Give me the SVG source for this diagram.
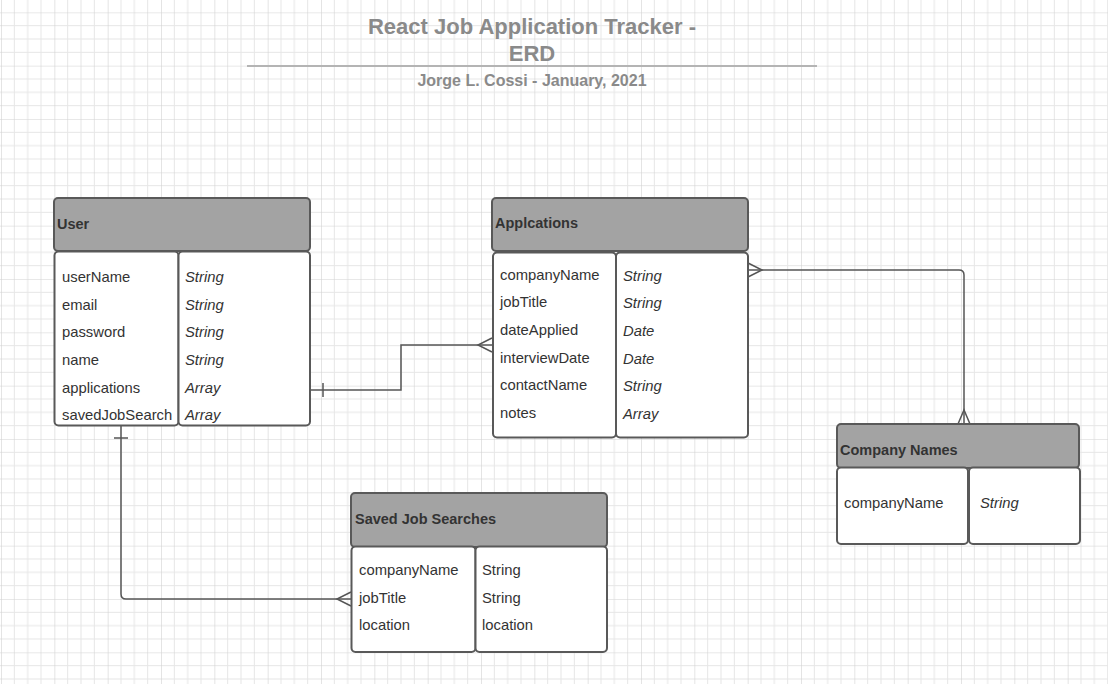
<svg xmlns="http://www.w3.org/2000/svg" width="1108" height="684" viewBox="0 0 1108 684">
<style>
.hdr{fill:#a3a3a3;stroke:#595959;stroke-width:2}
.body{fill:#ffffff;stroke:#595959;stroke-width:2}
.ht{font-family:"Liberation Sans",Arial,sans-serif;font-size:14.5px;font-weight:bold;fill:#333}
.rt{font-family:"Liberation Sans",Arial,sans-serif;font-size:14.8px;fill:#333}
.it{font-style:italic}
.title{font-family:"Liberation Sans",Arial,sans-serif;font-weight:bold;fill:#8a8a8a;text-anchor:middle}
.conn{fill:none;stroke:#555;stroke-width:1.5}
</style>
<defs>
<pattern id="grid" x="1" y="12.33" width="53.333" height="53.333" patternUnits="userSpaceOnUse">
<path d="M13.333 0V53.333M26.667 0V53.333M40 0V53.333M0 13.333H53.333M0 26.667H53.333M0 40H53.333" stroke="#e6e6e6" stroke-width="1" fill="none"/>
<path d="M0 0V53.333M0 0H53.333" stroke="#d2d2d2" stroke-width="1.2" fill="none"/>
</pattern>
</defs>
<rect width="1108" height="684" fill="#ffffff"/>
<rect width="1108" height="684" fill="url(#grid)"/>

<g id="title">
<text class="title" x="532" y="34" font-size="22">React Job Application Tracker -</text>
<text class="title" x="532" y="61" font-size="22">ERD</text>
<line x1="247" y1="66" x2="817" y2="66" stroke="#b4b4b4" stroke-width="2"/>
<text class="title" x="532" y="86" font-size="16">Jorge L. Cossi - January, 2021</text>
</g>

<g id="connectors">
<path class="conn" d="M310 390H401V345H492"/>
<path class="conn" d="M323 383V397"/>
<path class="conn" d="M492 338L478 345L492 352"/>
<path class="conn" d="M748 270H959Q964 270 964 275V424"/>
<path class="conn" d="M748 263L762 270L748 277"/>
<path class="conn" d="M958 424L964 410L970 424"/>
<path class="conn" d="M121 425V594Q121 599 126 599H351"/>
<path class="conn" d="M114 438H128"/>
<path class="conn" d="M351 592L337 599L351 606"/>
</g>

<g id="user">
<rect class="hdr" x="54" y="198" width="256" height="53" rx="4"/>
<rect class="body" x="54.5" y="251.5" width="124" height="174" rx="4"/>
<rect class="body" x="178.5" y="251.5" width="131.5" height="174" rx="4"/>
<text class="ht" x="57" y="229">User</text>
<text class="rt" x="62" y="282">userName</text>
<text class="rt" x="62" y="310">email</text>
<text class="rt" x="62" y="337">password</text>
<text class="rt" x="62" y="365">name</text>
<text class="rt" x="62" y="393">applications</text>
<text class="rt" x="62" y="420">savedJobSearch</text>
<text class="rt it" x="185" y="282">String</text>
<text class="rt it" x="185" y="310">String</text>
<text class="rt it" x="185" y="337">String</text>
<text class="rt it" x="185" y="365">String</text>
<text class="rt it" x="185" y="393">Array</text>
<text class="rt it" x="185" y="420">Array</text>
</g>

<g id="applications">
<rect class="hdr" x="492" y="198" width="256" height="53" rx="4"/>
<rect class="body" x="493" y="252.5" width="123" height="185" rx="4"/>
<rect class="body" x="616" y="252.5" width="132" height="185" rx="4"/>
<text class="ht" x="495" y="228">Applcations</text>
<text class="rt" x="500" y="280">companyName</text>
<text class="rt" x="500" y="307">jobTitle</text>
<text class="rt" x="500" y="335">dateApplied</text>
<text class="rt" x="500" y="363">interviewDate</text>
<text class="rt" x="500" y="390">contactName</text>
<text class="rt" x="500" y="418">notes</text>
<text class="rt it" x="623" y="281">String</text>
<text class="rt it" x="623" y="308">String</text>
<text class="rt it" x="623" y="336">Date</text>
<text class="rt it" x="623" y="364">Date</text>
<text class="rt it" x="623" y="391">String</text>
<text class="rt it" x="623" y="419">Array</text>
</g>

<g id="company-names">
<rect class="hdr" x="837" y="424" width="242" height="44" rx="4"/>
<rect class="body" x="837" y="467.5" width="131" height="76.5" rx="4"/>
<rect class="body" x="969" y="467.5" width="111" height="76.5" rx="4"/>
<text class="ht" x="840" y="455">Company Names</text>
<text class="rt" x="844" y="508">companyName</text>
<text class="rt it" x="980" y="508">String</text>
</g>

<g id="saved-job-searches">
<rect class="hdr" x="351" y="493" width="256" height="54" rx="4"/>
<rect class="body" x="351.5" y="546.5" width="124" height="105.5" rx="4"/>
<rect class="body" x="475.5" y="546.5" width="131.5" height="105.5" rx="4"/>
<text class="ht" x="355" y="524">Saved Job Searches</text>
<text class="rt" x="359" y="575">companyName</text>
<text class="rt" x="359" y="603">jobTitle</text>
<text class="rt" x="359" y="630">location</text>
<text class="rt" x="482" y="575">String</text>
<text class="rt" x="482" y="603">String</text>
<text class="rt" x="482" y="630">location</text>
</g>
</svg>
